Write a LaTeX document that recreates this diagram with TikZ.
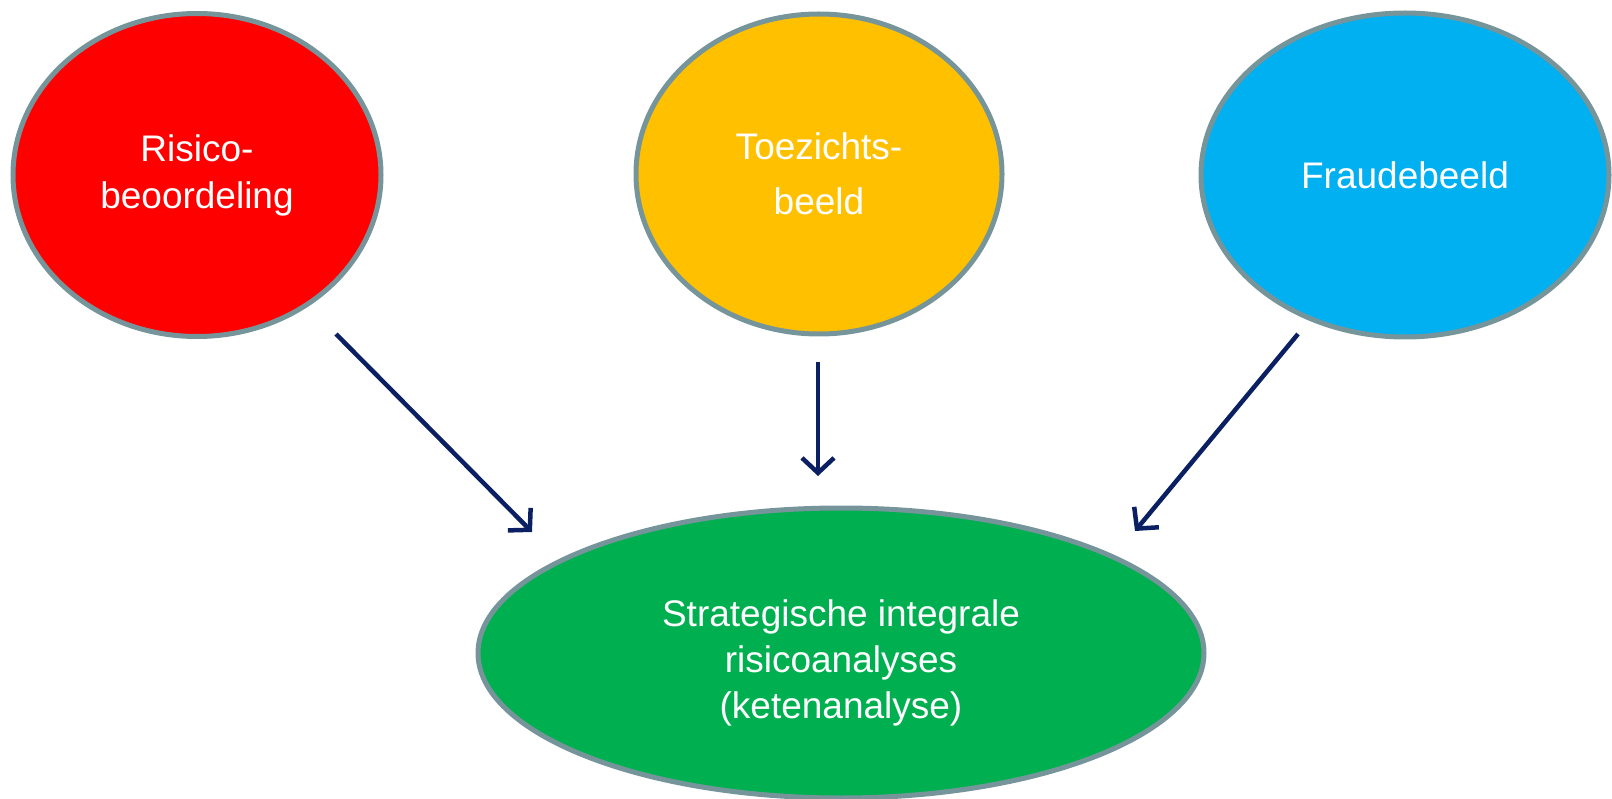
\documentclass[tikz,border=0pt]{standalone}
\usepackage{fontspec}
\setmainfont{Liberation Sans}
\usetikzlibrary{shapes.geometric,arrows.meta}
\definecolor{cred}{HTML}{FF0000}
\definecolor{cyel}{HTML}{FFC000}
\definecolor{cblue}{HTML}{00B0F0}
\definecolor{cgreen}{HTML}{00B050}
\definecolor{cborder}{HTML}{76959B}
\definecolor{carrow}{HTML}{0B2062}
\tikzset{
  blob/.style={ellipse, draw=cborder, line width=5pt, inner sep=0pt, text=white, align=center,
    font=\fontsize{37}{47}\selectfont},
  lbl/.style={text=white, align=center, inner sep=0pt, font=\fontsize{37}{46}\selectfont},
  conn/.style={draw=carrow, line width=4.5pt, -{Straight Barb[length=15pt,width=32pt]}}
}
\begin{document}
\begin{tikzpicture}[x=1pt,y=-1pt]
\useasboundingbox (0,0) rectangle (1612,799);
\node[blob, fill=cred, minimum width=368pt, minimum height=323pt] (r) at (197,175) {Risico-\\beoordeling};
\node[blob, fill=cyel, minimum width=366pt, minimum height=320pt, font=\fontsize{37}{55}\selectfont] (y) at (819,174) {Toezichts-\\beeld};
\node[blob, fill=cblue, minimum width=408pt, minimum height=324pt] (b) at (1405,175) {Fraudebeeld};
\node[blob, fill=cgreen, minimum width=726pt, minimum height=290pt] (g) at (841,653) {};
\node[lbl] (gt) at (841,663) {Strategische integrale\\risicoanalyses\\(ketenanalyse)};
\coordinate (a1s) at (336,334);
\coordinate (a1e) at (532,532);
\coordinate (a2s) at (818,362);
\coordinate (a2e) at (818,476);
\coordinate (a3s) at (1298,334);
\coordinate (a3e) at (1135,531);
\draw[conn] (a1s) -- (a1e);
\draw[conn] (a2s) -- (a2e);
\draw[conn] (a3s) -- (a3e);
\end{tikzpicture}
\end{document}
